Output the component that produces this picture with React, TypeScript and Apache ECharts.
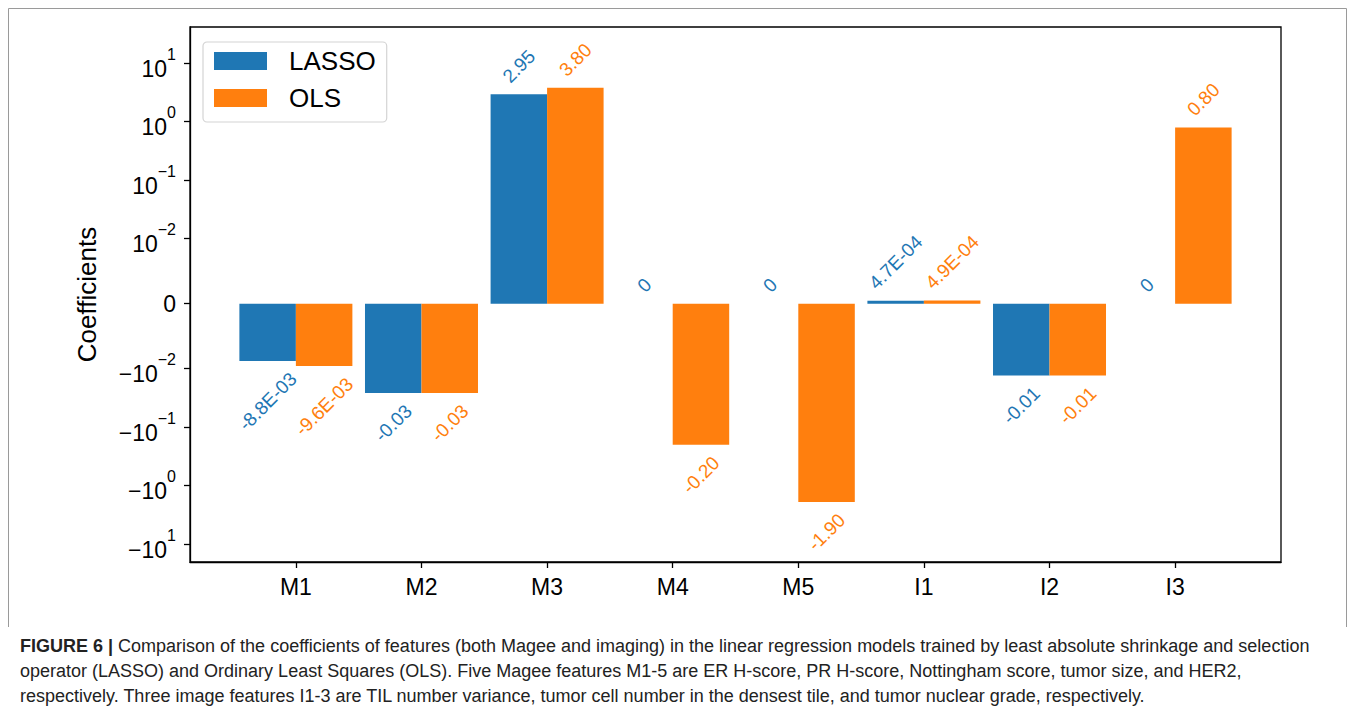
import React, { useEffect, useRef } from "react";
import * as echarts from "echarts";

const categories = ["M1", "M2", "M3", "M4", "M5", "I1", "I2", "I3"];
const seriesNames = ["LASSO", "OLS"];
const lassoValues = [-0.0088, -0.026, 2.95, 0, 0, 0.00047, -0.013, 0];
const olsValues = [-0.0096, -0.026, 3.8, -0.2, -1.9, 0.00049, -0.013, 0.8];
const yTickValues = [-10, -1, -0.1, -0.01, 0, 0.01, 0.1, 1, 10];
const captionLines = [
  "{b|FIGURE 6 |} Comparison of the coefficients of features (both Magee and imaging) in the linear regression models trained by least absolute shrinkage and selection",
  "operator (LASSO) and Ordinary Least Squares (OLS). Five Magee features M1-5 are ER H-score, PR H-score, Nottingham score, tumor size, and HER2,",
  "respectively. Three image features I1-3 are TIL number variance, tumor cell number in the densest tile, and tumor nuclear grade, respectively.",
];

const FONT = '"Liberation Sans", Arial, Helvetica, sans-serif';
const COLORS = ["#1f77b4", "#ff7f0e"];
const LINTHRESH = 0.01;
const LINSCALE = 1 / (1 - 1 / 10);
const LABEL_FS = 19;

function symlog(v: number): number {
  const a = Math.abs(v);
  if (a <= LINTHRESH) return (v / LINTHRESH) * LINSCALE;
  return Math.sign(v) * (LINSCALE + Math.log10(a / LINTHRESH));
}

function fmtValue(v: number): string {
  if (v === 0) return "0";
  if (Math.abs(v) < 0.01) {
    const [m, e] = v.toExponential(1).split("e");
    const en = parseInt(e, 10);
    const es = (en < 0 ? "-" : "+") + String(Math.abs(en)).padStart(2, "0");
    return m + "E" + es;
  }
  return v.toFixed(2);
}

function tickLabel(t: number): string {
  let best = 0;
  let bd = Infinity;
  yTickValues.forEach((v, i) => {
    const d = Math.abs(symlog(v) - t);
    if (d < bd) {
      bd = d;
      best = i;
    }
  });
  const v = yTickValues[best];
  if (v === 0) return "{b|0}";
  const e = Math.round(Math.log10(Math.abs(v)));
  const sign = v < 0 ? "\u2212" : "";
  const es = e < 0 ? "\u2212" + String(-e) : String(e);
  return `{b|${sign}10}{s|${es}}`;
}

let measureCtx: CanvasRenderingContext2D | null = null;
function textWidth(t: string, font: string): number {
  if (!measureCtx) measureCtx = document.createElement("canvas").getContext("2d");
  if (!measureCtx) return t.length * 10;
  measureCtx.font = font;
  return measureCtx.measureText(t).width;
}

export default function App() {
  const ref = useRef<HTMLDivElement>(null);
  useEffect(() => {
    if (!ref.current) return;
    const chart = echarts.init(ref.current, undefined, { renderer: "svg" });
    const allValues = [lassoValues, olsValues];

    const labelLayout = (params: any) => {
      const vals = allValues[params.seriesIndex];
      const v = vals[params.dataIndex];
      const r = params.rect;
      const top = Math.min(r.y, r.y + r.height);
      const bottom = Math.max(r.y, r.y + r.height);
      const cx = r.x + r.width / 2;
      const w = textWidth(params.text, `${LABEL_FS}px ${FONT}`);
      const h = (w + LABEL_FS * 0.72) * Math.SQRT1_2;
      const gap = 10;
      const y = v >= 0 ? top - gap - h / 2 : bottom + gap + h / 2;
      return { x: cx, y, rotate: 45, align: "center", verticalAlign: "middle" };
    };

    const makeSeries = (name: string, vals: number[], color: string) => ({
      type: "bar",
      name,
      data: vals.map((v, i) => [i, symlog(v)]),
      barWidth: 56.5,
      barGap: "0%",
      itemStyle: { color },
      label: {
        show: true,
        formatter: (p: any) => fmtValue(vals[p.dataIndex]),
        fontSize: LABEL_FS,
        fontFamily: FONT,
        color,
      },
      labelLayout,
    });

    const catIdx = categories.map((_, i) => i);
    const yCustom = yTickValues.map(symlog);

    chart.setOption({
      animation: false,
      backgroundColor: "#fff",
      grid: {
        left: 190,
        top: 27,
        width: 1091,
        height: 535,
        show: true,
        borderColor: "#000",
        borderWidth: 1.3,
        backgroundColor: "transparent",
        containLabel: false,
      },
      legend: {
        orient: "vertical",
        left: 203,
        top: 42,
        data: seriesNames,
        icon: "rect",
        itemWidth: 53,
        itemHeight: 18,
        itemGap: 11,
        padding: [6, 11, 11, 11],
        backgroundColor: "#fff",
        borderColor: "#d4d4d4",
        borderWidth: 1.2,
        borderRadius: 4,
        textStyle: { fontSize: 26, fontFamily: FONT, color: "#000", padding: [0, 0, 0, 17] },
      },
      xAxis: {
        type: "value",
        min: -0.843,
        max: 7.843,
        position: "bottom",
        splitLine: { show: false },
        axisLine: { show: true, onZero: false, lineStyle: { color: "#000", width: 1.3 } },
        axisTick: {
          show: true,
          inside: false,
          customValues: catIdx,
          length: 6,
          lineStyle: { color: "#000", width: 1.3 },
        },
        axisLabel: {
          customValues: catIdx,
          formatter: (v: number) => categories[Math.round(v)] ?? "",
          fontSize: 23,
          fontFamily: FONT,
          color: "#000",
          margin: 13,
        },
      },
      yAxis: {
        type: "value",
        min: -4.415,
        max: 4.73,
        position: "left",
        name: "Coefficients",
        nameLocation: "middle",
        nameGap: 90,
        nameTextStyle: { fontSize: 26, fontFamily: FONT, color: "#000" },
        splitLine: { show: false },
        axisLine: { show: true, onZero: false, lineStyle: { color: "#000", width: 1.3 } },
        axisTick: {
          show: true,
          inside: false,
          customValues: yCustom,
          length: 6,
          lineStyle: { color: "#000", width: 1.3 },
        },
        axisLabel: {
          customValues: yCustom,
          formatter: (v: number) => tickLabel(v),
          margin: 14,
          color: "#000",
          rich: {
            b: { fontSize: 23, fontFamily: FONT, color: "#000", verticalAlign: "bottom" },
            s: {
              fontSize: 16,
              fontFamily: FONT,
              color: "#000",
              verticalAlign: "top",
              padding: [0, 0, 18, 0],
            },
          },
        },
      },
      series: [
        makeSeries(seriesNames[0], lassoValues, COLORS[0]),
        makeSeries(seriesNames[1], olsValues, COLORS[1]),
      ],
      graphic: [
        {
          type: "polyline",
          shape: {
            points: [
              [8.5, 627],
              [8.5, 8.5],
              [1346.5, 8.5],
              [1346.5, 627],
            ],
          },
          style: { stroke: "#9a9a9a", lineWidth: 1, fill: null },
          silent: true,
        },
        ...captionLines.map((line, i) => ({
          type: "text",
          left: 20,
          top: 637 + i * 25,
          style: {
            text: line,
            fontSize: 18,
            fontFamily: FONT,
            fill: "#222",
            rich: { b: { fontWeight: "bold", fontSize: 18, fontFamily: FONT, fill: "#222" } },
          },
          silent: true,
        })),
      ],
    });
    return () => chart.dispose();
  }, []);

  return (
    <div
      ref={ref}
      style={{ position: "fixed", left: 0, top: 0, width: 1355, height: 712, background: "#fff" }}
    />
  );
}
